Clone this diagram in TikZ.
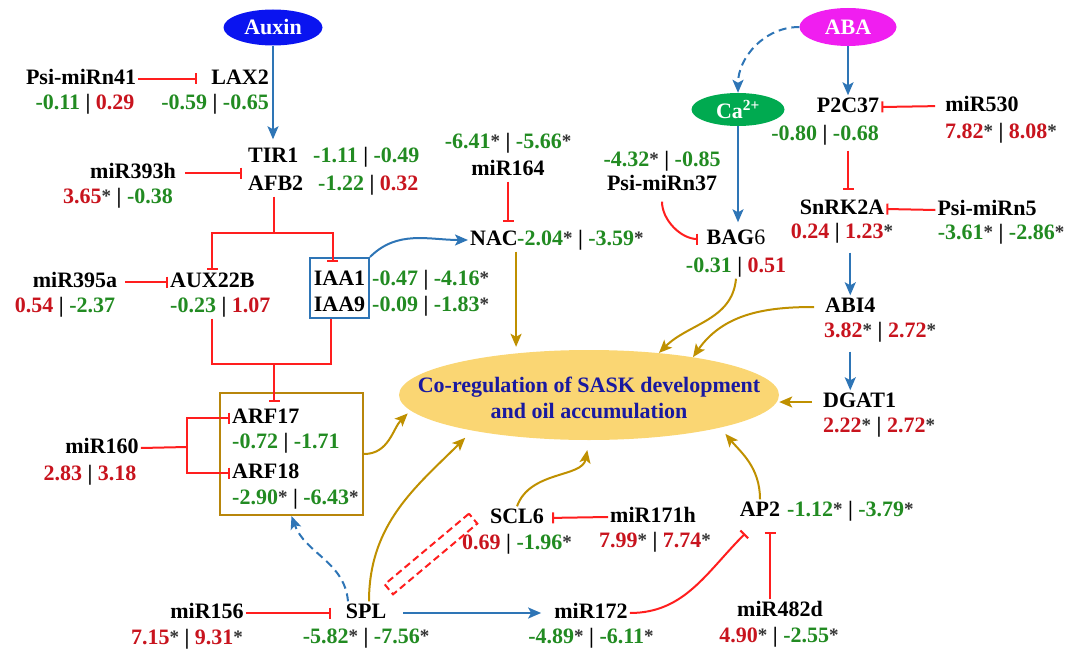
\documentclass[tikz,border=0pt]{standalone}
\usepackage{fontspec}
\setmainfont{Liberation Serif}
\usetikzlibrary{arrows.meta,shapes.geometric}
\definecolor{tg}{RGB}{34,139,34}
\definecolor{tr}{RGB}{200,20,30}
\definecolor{lr}{RGB}{255,30,30}
\definecolor{lb}{RGB}{46,117,182}
\definecolor{br}{RGB}{191,144,0}
\definecolor{bx}{RGB}{184,134,11}
\definecolor{mf}{RGB}{250,214,115}
\definecolor{mt}{RGB}{25,25,160}
\definecolor{auxc}{RGB}{10,20,240}
\definecolor{abac}{RGB}{240,30,240}
\definecolor{cac}{RGB}{0,170,80}
\definecolor{stc}{RGB}{50,50,50}
\newcommand\fs{\fontsize{22}{26}\selectfont}
\newcommand\G[1]{\textcolor{tg}{#1}}
\newcommand\R[1]{\textcolor{tr}{#1}}
\newcommand\st{{\fontsize{19}{19}\selectfont\raisebox{1.5pt}{\textcolor{stc}{*}}}}
\tikzset{
 lab/.style={font=\fs\bfseries, inner sep=2pt, text height=15pt, text depth=4pt},
 horm/.style={ellipse, inner sep=0pt, text=white, font=\fs\bfseries},
 redl/.style={draw=lr, line width=2pt},
 inh/.style={draw=lr, line width=2pt, -{Bar[width=11pt]}},
 act/.style={draw=lb, line width=2pt, -{Stealth[length=13pt,width=11pt,inset=3pt]}},
 eff/.style={draw=br, line width=2pt, -{Stealth[length=13pt,width=11pt,inset=3pt]}},
 dsh/.style={dash pattern=on 8pt off 5pt},
}
\begin{document}
\begin{tikzpicture}[x=1pt,y=-1pt]
\useasboundingbox (0,0) rectangle (1067,650);
% main
\node[ellipse, fill=mf, minimum width=380pt, minimum height=90pt, inner sep=0] (main) at (589,395) {};
\node[font=\fs\bfseries, text=mt, align=center, inner sep=0] (maintext) at (589,398) {Co-regulation of SASK development\\and oil accumulation};
% hormones
\node[horm, fill=auxc, minimum width=99pt, minimum height=36pt] (auxin) at (273,27.5) {Auxin};
\node[horm, fill=abac, minimum width=97pt, minimum height=38pt] (aba) at (848,27) {ABA};
\node[horm, fill=cac, minimum width=93pt, minimum height=33pt] (ca) at (738,109.5) {Ca\textsuperscript{2+}};
% left top
\node[lab] (psi41) at (81,79) {Psi-miRn41};
\node[lab] (psi41v) at (85,104) {\G{-0.11} | \R{0.29}};
\node[lab, anchor=east] (lax2) at (271,79) {LAX2};
\node[lab, anchor=east] (lax2v) at (271,104) {\G{-0.59} | \G{-0.65}};
\node[lab, anchor=west] (tir1) at (246,157) {TIR1};
\node[lab, anchor=west] (tir1v) at (311,157) {\G{-1.11} | \G{-0.49}};
\node[lab, anchor=west] (afb2) at (246,185) {AFB2};
\node[lab, anchor=west] (afb2v) at (316,185) {\G{-1.22} | \R{0.32}};
\node[lab] (mir393) at (133,173) {miR393h};
\node[lab] (mir393v) at (118,198) {\R{3.65}\st{} | \G{-0.38}};
\node[lab] (mir164v) at (508,143) {\G{-6.41}\st{} | \G{-5.66}\st};
\node[lab] (mir164) at (508,170) {miR164};
\node[lab, anchor=west] (nac) at (468,240) {NAC};
\node[lab, anchor=west] (nacv) at (515,240) {\G{-2.04}\st{} | \G{-3.59}\st};
% right top
\node[lab] (psi37v) at (662,161) {\G{-4.32}\st{} | \G{-0.85}};
\node[lab] (psi37) at (662,185) {Psi-miRn37};
\node[lab] (bag6) at (736,239) {BAG{\mdseries 6}};
\node[lab] (bag6v) at (736,267) {\G{-0.31} | \R{0.51}};
\node[lab] (p2c37) at (848,107) {P2C37};
\node[lab] (p2c37v) at (825,135) {\G{-0.80} | \G{-0.68}};
\node[lab] (mir530) at (982,106) {miR530};
\node[lab] (mir530v) at (1001,133) {\R{7.82}\st{} | \R{8.08}\st};
\node[lab] (snrk) at (842,209) {SnRK2A};
\node[lab] (snrkv) at (842,233) {\R{0.24} | \R{1.23}\st};
\node[lab] (psi5) at (987,210) {Psi-miRn5};
\node[lab] (psi5v) at (1001,234) {\G{-3.61}\st{} | \G{-2.86}\st};
\node[lab, anchor=west] (abi4) at (823,307) {ABI4};
\node[lab, anchor=west] (abi4v) at (822,332) {\R{3.82}\st{} | \R{2.72}\st};
\node[lab, anchor=west] (dgat) at (821,402) {DGAT1};
\node[lab, anchor=west] (dgatv) at (821,427) {\R{2.22}\st{} | \R{2.72}\st};
% left middle
\node[lab] (mir395) at (75,282) {miR395a};
\node[lab] (mir395v) at (65,307) {\R{0.54} | \G{-2.37}};
\node[lab, anchor=west] (aux22b) at (168,282) {AUX22B};
\node[lab, anchor=west] (aux22bv) at (168,307) {\G{-0.23} | \R{1.07}};
\node[draw=lb, line width=2pt, minimum width=59pt, minimum height=60pt, inner sep=0] (iaabox) at (339.5,288) {};
\node[lab] (iaa1) at (339.5,280) {IAA1};
\node[lab] (iaa9) at (339.5,306) {IAA9};
\node[lab, anchor=west] (iaa1v) at (370,280) {\G{-0.47} | \G{-4.16}\st};
\node[lab, anchor=west] (iaa9v) at (370,306) {\G{-0.09} | \G{-1.83}\st};
\node[draw=bx, line width=2pt, minimum width=143pt, minimum height=122pt, inner sep=0] (arfbox) at (291.5,454) {};
\node[lab, anchor=west] (arf17) at (230,418) {ARF17};
\node[lab, anchor=west] (arf17v) at (230,443) {\G{-0.72} | \G{-1.71}};
\node[lab, anchor=west] (arf18) at (230,473) {ARF18};
\node[lab, anchor=west] (arf18v) at (230,499) {\G{-2.90}\st{} | \G{-6.43}\st};
\node[lab] (mir160) at (102,448) {miR160};
\node[lab] (mir160v) at (90,475) {\R{2.83} | \R{3.18}};
% bottom
\node[lab] (spl) at (366,613) {SPL};
\node[lab] (splv) at (366,638) {\G{-5.82}\st{} | \G{-7.56}\st};
\node[lab] (mir156) at (207,613) {miR156};
\node[lab] (mir156v) at (187,639) {\R{7.15}\st{} | \R{9.31}\st};
\node[lab] (mir172) at (591,613) {miR172};
\node[lab] (mir172v) at (591,638) {\G{-4.89}\st{} | \G{-6.11}\st};
\node[lab] (scl6) at (517,518) {SCL6};
\node[lab] (scl6v) at (517,544) {\R{0.69} | \G{-1.96}\st};
\node[lab] (mir171) at (653,517) {miR171h};
\node[lab] (mir171v) at (655,542) {\R{7.99}\st{} | \R{7.74}\st};
\node[lab] (ap2) at (760,511) {AP2};
\node[lab, anchor=west] (ap2v) at (785,511) {\G{-1.12}\st{} | \G{-3.79}\st};
\node[lab] (mir482) at (780,611) {miR482d};
\node[lab] (mir482v) at (779,637) {\R{4.90}\st{} | \G{-2.55}\st};
\node[draw=lr, line width=2pt, dash pattern=on 7pt off 4pt, minimum width=110pt, minimum height=13pt, inner sep=0, rotate=40] (antag) at (431,554) {};
% connectors left
\draw[inh, shorten >=12pt] (psi41.east) -- (lax2.west);
\draw[act, shorten >=6pt] (auxin.south) -- (auxin.south |- tir1.north);
\draw[inh, shorten <=7pt, shorten >=4pt] (mir393.east) -- (tir1.west |- mir393.east);
\coordinate (f1) at (274,233);
\draw[redl] (f1 |- afb2.south) -- (f1);
\draw[inh] (f1) -| (aux22b.north);
\draw[inh] (f1) -| ([shift={(-7,5)}]iaabox.north);
\coordinate (f2) at (274,364);
\draw[redl] (aux22b.south |- aux22bv.south) |- (f2) -| ([xshift=-9pt]iaabox.south);
\draw[inh] (f2) -- ([yshift=-10pt]f2 |- arfbox.north);
\draw[inh, shorten <=6pt] (mir395.east) -- (aux22b.west);
\coordinate (j160) at (187,447);
\draw[redl] (mir160.east) -- (j160);
\draw[inh] (j160) |- (arf17.west);
\draw[inh] (j160) |- (arf18.west);
\draw[eff, shorten >=4pt] (arfbox.east) to[out=0,in=-135] (main.-175);
\draw[act] (iaabox.north east) to[out=45,in=180] (nac.west);
\draw[inh, shorten >=6pt] (mir164.south) -- (mir164.south |- nac.north);
\draw[eff, shorten >=3pt] ([xshift=-4pt]nac.south east) -- ([xshift=-4pt]nac.south east |- main.north);
% connectors right
\draw[inh, shorten <=5pt, shorten >=6pt] (psi37.south) to[out=-90,in=180] (bag6.west);
\draw[act, shorten >=5pt] (ca.south) -- (ca.south |- bag6.north);
\draw[act, dsh] (aba.west) to[out=180,in=90] (ca.north);
\draw[act] (aba.south) -- (aba.south |- p2c37.north);
\draw[inh, shorten <=8pt] (mir530.west) -- (p2c37.east);
\draw[inh, shorten <=4pt, shorten >=7pt] (p2c37.south |- p2c37v.south) -- (p2c37.south |- snrk.north);
\draw[inh] (psi5.west) -- (snrk.east);
\draw[act, shorten <=8pt] (abi4.north |- snrkv.south) -- (abi4.north);
\draw[act, shorten <=8pt] (abi4.south |- abi4v.south) -- (abi4.south |- dgat.north);
\draw[eff, shorten <=9pt] (dgat.west) -- (dgat.west -| main.east);
\draw[eff, shorten <=9pt] (abi4.west) to[out=180,in=55] (main.20);
\draw[eff] (bag6v.south) to[out=-95,in=45] (main.31);
% connectors bottom
\draw[eff, shorten >=8pt] (ap2.north) to[out=90,in=-50] (main.-14);
\draw[eff, shorten >=10pt] (scl6.north) to[out=70,in=-100] (main.south);
\draw[eff, shorten >=10pt] ([xshift=3pt]spl.north) to[out=90,in=-135] (main.-163);
\draw[act, dsh] ([xshift=-18pt]spl.north) to[out=95,in=-70] (arfbox.south);
\draw[inh, shorten >=13pt] (mir156.east) -- (spl.west);
\draw[act, shorten <=15pt, shorten >=11pt] (spl.east) -- (mir172.west);
\draw[inh] (mir172.east) to[out=0,in=-135] ([shift={(-15,11)}]ap2.south);
\draw[inh, shorten >=9pt] ([xshift=-10pt]mir482.north) -- ([xshift=-10pt]mir482.north |- ap2.south);
\draw[inh, shorten >=6pt] (mir171.west) -- (scl6.east);
\end{tikzpicture}
\end{document}
